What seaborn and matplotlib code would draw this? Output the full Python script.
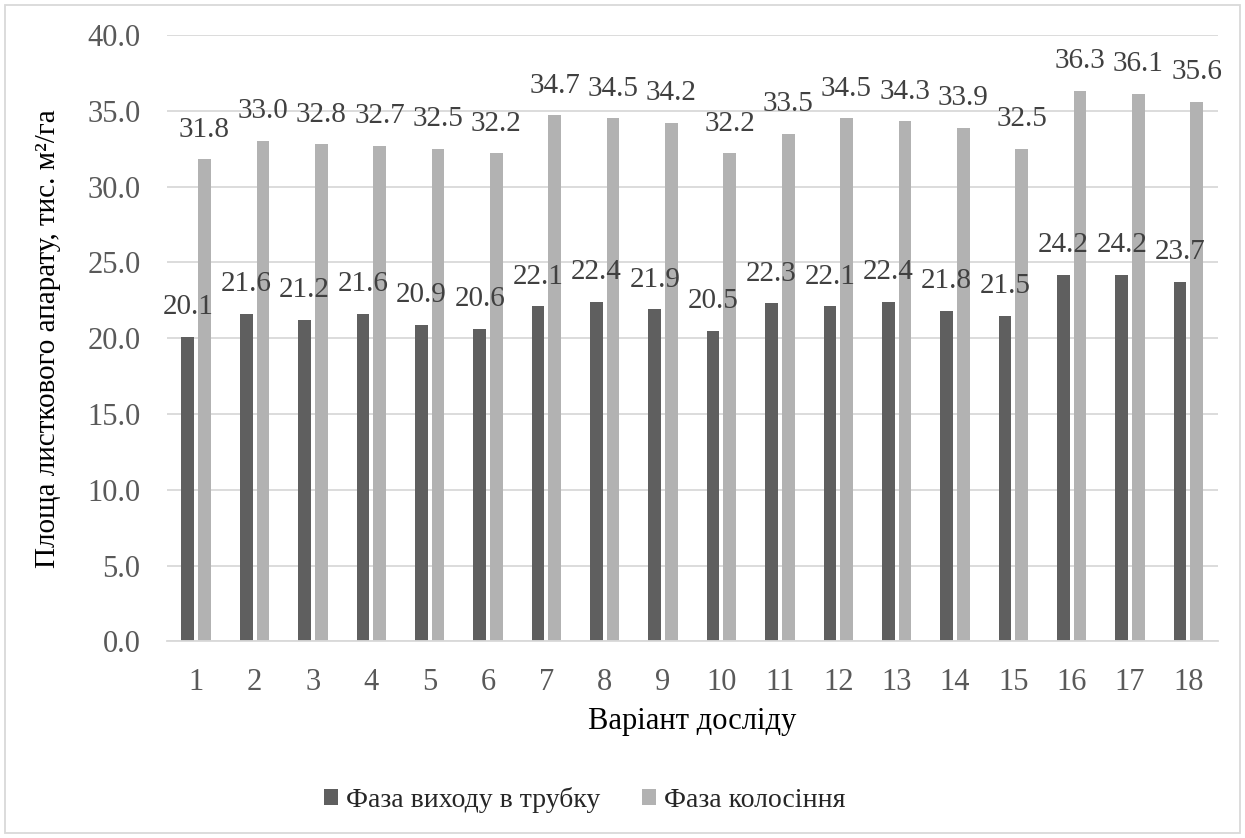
import matplotlib
matplotlib.use("Agg")
import matplotlib.pyplot as plt
import seaborn as sns
import pandas as pd
from matplotlib.patches import Rectangle

variants = [str(i) for i in range(1, 19)]
series_names = ["Фаза виходу в трубку", "Фаза колосіння"]
phase_tube = [20.1, 21.6, 21.2, 21.6, 20.9, 20.6, 22.1, 22.4, 21.9, 20.5,
              22.3, 22.1, 22.4, 21.8, 21.5, 24.2, 24.2, 23.7]
phase_ear = [31.8, 33.0, 32.8, 32.7, 32.5, 32.2, 34.7, 34.5, 34.2, 32.2,
             33.5, 34.5, 34.3, 33.9, 32.5, 36.3, 36.1, 35.6]
y_ticks = [0, 5, 10, 15, 20, 25, 30, 35, 40]

df = pd.DataFrame({
    "variant": variants * 2,
    "series": [series_names[0]] * len(variants) + [series_names[1]] * len(variants),
    "value": phase_tube + phase_ear,
})

sns.set_theme(style="white")
plt.rcParams["font.family"] = "serif"
plt.rcParams["font.serif"] = ["Liberation Serif", "DejaVu Serif"]
FAM = ["Liberation Serif", "DejaVu Serif"]

fig = plt.figure(figsize=(12.45, 8.38), dpi=100)
ax = fig.add_axes([0.1341, 0.2345, 0.978 - 0.1341, 0.9582 - 0.2345])

palette = {series_names[0]: "#5f5f5f", series_names[1]: "#b2b2b2"}
sns.barplot(data=df, x="variant", y="value", hue="series", order=variants,
            hue_order=series_names, palette=palette, width=0.572, gap=0.24,
            linewidth=0, saturation=1, ax=ax, legend=True, errorbar=None)

ax.set_ylim(0, 40)
ax.set_xlim(-0.5, len(variants) - 0.5)
ax.set_yticks(y_ticks)
ax.set_yticklabels([f"{v:.1f}" for v in y_ticks], fontfamily=FAM)
ax.set_xticks(range(len(variants)))
ax.set_xticklabels(variants, fontfamily=FAM)
ax.yaxis.grid(True, color="#d9d9d9", linewidth=1.3)
ax.set_axisbelow(True)
for side in ["top", "right", "left"]:
    ax.spines[side].set_visible(False)
ax.spines["bottom"].set_color("#d9d9d9")
ax.spines["bottom"].set_linewidth(1.3)
ax.tick_params(axis="both", length=0, labelsize=22, labelcolor="#595959")
ax.tick_params(axis="y", pad=19)
ax.tick_params(axis="x", pad=19)

for cont in ax.containers:
    ax.bar_label(cont, labels=[f"{b.get_height():.1f}" for b in cont],
                 padding=12, fontsize=21, color="#404040", fontfamily=FAM)

ax.set_xlabel("Варіант досліду", fontsize=22, color="black", labelpad=7, fontfamily=FAM)
ax.set_ylabel("Площа листкового апарату, тис. м²/га", fontsize=21, color="black",
              labelpad=19, fontfamily=FAM)

handles, labels = ax.get_legend_handles_labels()
ax.get_legend().remove()
fig.legend(handles, labels, loc="center", bbox_to_anchor=(585 / 1245, 1 - 800 / 838),
           ncol=2, frameon=False, prop={"family": FAM, "size": 20},
           handlelength=0.5, handleheight=0.5, handletextpad=0.3, columnspacing=1.5)

fig.add_artist(Rectangle((5 / 1245, 5 / 838), 1235 / 1245, 828 / 838, transform=fig.transFigure,
                         fill=False, edgecolor="#d9d9d9", linewidth=1.3))

fig.savefig("out.png", dpi=100)
